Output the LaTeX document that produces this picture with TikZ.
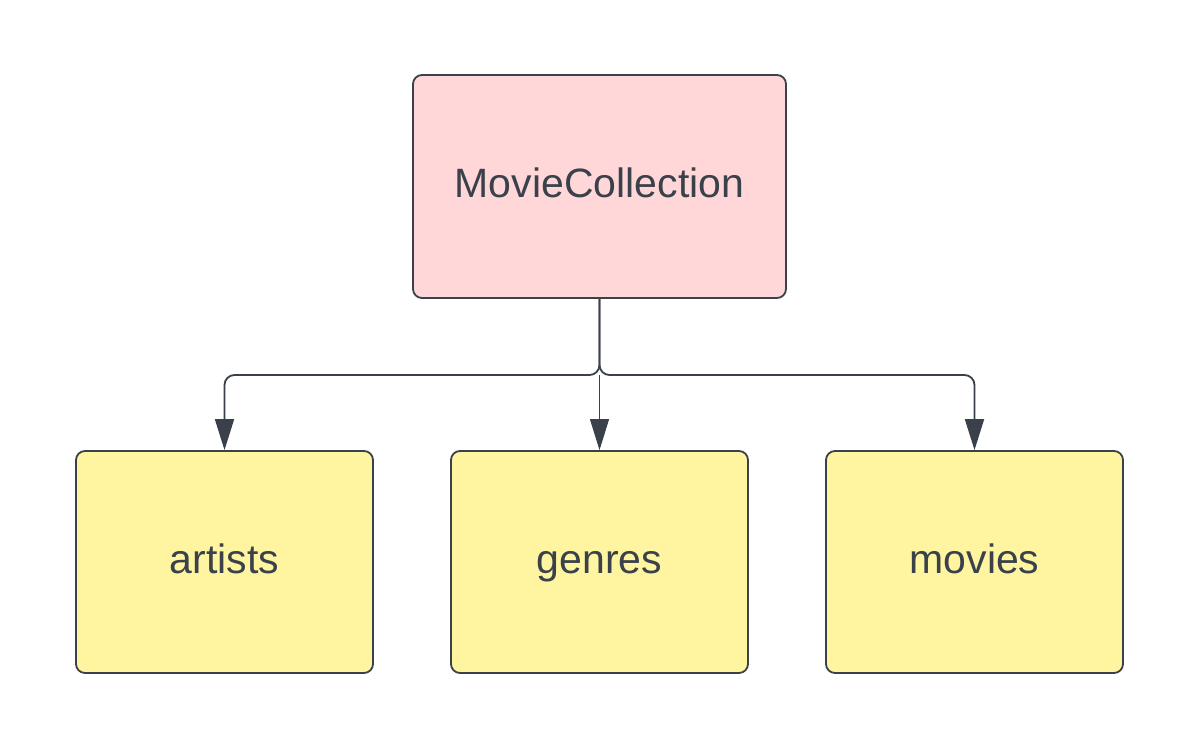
\documentclass[tikz,border=0pt]{standalone}
\usepackage{fontspec}
\setmainfont{Liberation Sans}
\usetikzlibrary{arrows.meta}
\definecolor{ink}{HTML}{3A414A}
\definecolor{pinkfill}{HTML}{FFD7D9}
\definecolor{yellowfill}{HTML}{FFF5A0}
\tikzset{
  box/.style={draw=ink, line width=1.8pt, rounded corners=9pt, inner sep=0pt,
    font=\fontsize{41}{48}\selectfont, text=ink, text height=30pt, text depth=8pt},
  topbox/.style={box, fill=pinkfill, minimum width=373pt, minimum height=223pt},
  leafbox/.style={box, fill=yellowfill, minimum width=297pt, minimum height=222pt},
  conn/.style={draw=ink, line width=1.8pt, rounded corners=10pt,
    -{Triangle[width=19pt,length=31pt]}},
  thinconn/.style={draw=ink, line width=0.9pt, -{Triangle[width=19pt,length=31pt]}}
}
\begin{document}
\begin{tikzpicture}[x=1pt,y=-1pt]
\useasboundingbox (0,0) rectangle (1200,750);
\node[topbox] (mc) at (599.5,186.5) {MovieCollection};
\node[leafbox] (artists) at (224.5,562) {artists};
\node[leafbox] (genres) at (599.5,562) {genres};
\node[leafbox] (movies) at (974.5,562) {movies};
\coordinate (j) at (599.5,375);
\draw[conn] (mc.south) -- (j) -| (artists.north);
\draw[conn] (mc.south) -- (j) -| (movies.north);
\draw[thinconn] (j) -- (genres.north);
\end{tikzpicture}
\end{document}
